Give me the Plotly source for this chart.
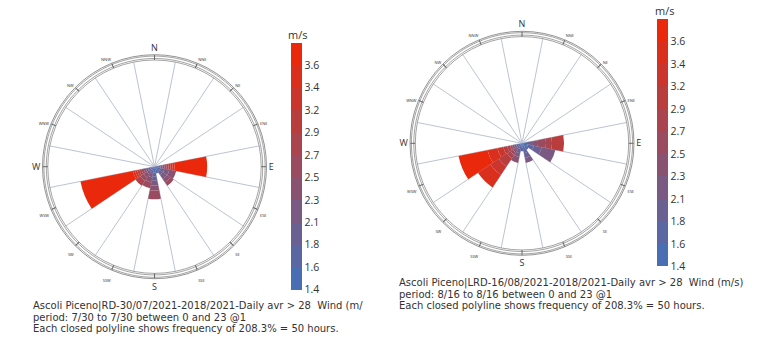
import plotly.graph_objects as go

W, H = 758, 343

# ---- compass sectors -------------------------------------------------------
DIRECTIONS = ["N", "NNE", "NE", "ENE", "E", "ESE", "SE", "SSE",
              "S", "SSW", "SW", "WSW", "W", "WNW", "NW", "NNW"]
DIR_ANGLES = [i * 22.5 for i in range(16)]
SECTOR_EDGES = [11.25 + i * 22.5 for i in range(16)]

# ---- speed classes (m/s), lower bounds of the 11 colour bands --------------
SPEED_LOW = [1.4, 1.62, 1.84, 2.06, 2.28, 2.5, 2.72, 2.94, 3.16, 3.38, 3.6]
SPEED_TOP = 3.82
SPEED_LABELS = ["1.4", "1.6", "1.8", "2.1", "2.3", "2.5", "2.7", "2.9", "3.2", "3.4", "3.6"]

FREQ_MAX = 208.3  # frequency (%) of the closed polyline

# ---- RD-30/07/2021 : frequency (%) per direction, one list per speed class --
#            N  NNE NE ENE   E     ESE   SE    SSE   S     SSW   SW    WSW    W WNW NW NNW
rd_c0  = [0, 0, 0, 0, 3.9,  5.9,  5.9,  7.8, 11.7,  3.9,  3.9,   4.3, 0, 0, 0, 0]
rd_c1  = [0, 0, 0, 0, 3.9,  5.9,  5.9,  5.9,  7.8,  3.9,  3.9,   4.3, 0, 0, 0, 0]
rd_c2  = [0, 0, 0, 0, 3.9,  7.8,  7.8,  0.0,  7.8,  5.9,  3.9,   4.3, 0, 0, 0, 0]
rd_c3  = [0, 0, 0, 0, 3.9,  9.8,  9.8,  0.0,  9.8,  7.8,  5.9,   4.3, 0, 0, 0, 0]
rd_c4  = [0, 0, 0, 0, 3.9, 13.7,  7.8,  0.0,  9.8,  9.8,  7.8,   4.3, 0, 0, 0, 0]
rd_c5  = [0, 0, 0, 0, 3.9,  0.0,  7.8,  0.0, 16.8, 11.7,  7.8,   4.3, 0, 0, 0, 0]
rd_c6  = [0, 0, 0, 0, 3.9,  0.0,  0.0,  0.0,  0.0,  0.0, 11.7,   4.3, 0, 0, 0, 0]
rd_c7  = [0, 0, 0, 0, 3.9,  0.0,  0.0,  0.0,  0.0,  0.0,  0.0,   4.3, 0, 0, 0, 0]
rd_c8  = [0, 0, 0, 0, 3.9,  0.0,  0.0,  0.0,  0.0,  0.0,  0.0,   4.3, 0, 0, 0, 0]
rd_c9  = [0, 0, 0, 0, 3.9,  0.0,  0.0,  0.0,  0.0,  0.0,  0.0,   4.3, 0, 0, 0, 0]
rd_c10 = [0, 0, 0, 0, 63.8, 0.0,  0.0,  0.0,  0.0,  0.0,  0.0, 104.4, 0, 0, 0, 0]

# ---- LRD-16/08/2021 ----------------------------------------------------------
#             N  NNE NE ENE   E     ESE   SE   SSE   S    SSW   SW    WSW   W WNW NW NNW
lrd_c0  = [0, 0, 0, 0,  5.9, 11.7, 7.8, 9.8, 7.8,  5.9,  3.9,  3.9, 0, 0, 0, 0]
lrd_c1  = [0, 0, 0, 0,  5.9, 11.7, 7.8, 9.8, 7.8,  5.9,  3.9,  3.9, 0, 0, 0, 0]
lrd_c2  = [0, 0, 0, 0,  5.9, 15.6, 0.0, 9.8, 0.0,  7.8,  3.9,  3.9, 0, 0, 0, 0]
lrd_c3  = [0, 0, 0, 0,  5.9, 27.3, 0.0, 9.8, 0.0,  7.8,  3.9,  3.9, 0, 0, 0, 0]
lrd_c4  = [0, 0, 0, 0,  7.8,  0.0, 0.0, 0.0, 0.0, 11.7,  5.9,  3.9, 0, 0, 0, 0]
lrd_c5  = [0, 0, 0, 0, 15.6,  0.0, 0.0, 0.0, 0.0,  0.0,  5.9,  3.9, 0, 0, 0, 0]
lrd_c6  = [0, 0, 0, 0, 11.7,  0.0, 0.0, 0.0, 0.0,  0.0,  7.8,  5.9, 0, 0, 0, 0]
lrd_c7  = [0, 0, 0, 0, 23.4,  0.0, 0.0, 0.0, 0.0,  0.0, 19.5,  7.8, 0, 0, 0, 0]
lrd_c8  = [0, 0, 0, 0,  0.0,  0.0, 0.0, 0.0, 0.0,  0.0, 19.5, 11.7, 0, 0, 0, 0]
lrd_c9  = [0, 0, 0, 0,  0.0,  0.0, 0.0, 0.0, 0.0,  0.0, 29.3, 19.5, 0, 0, 0, 0]
lrd_c10 = [0, 0, 0, 0,  0.0,  0.0, 0.0, 0.0, 0.0,  0.0,  0.0, 58.0, 0, 0, 0, 0]

RD_CLASSES = [rd_c0, rd_c1, rd_c2, rd_c3, rd_c4, rd_c5, rd_c6, rd_c7, rd_c8, rd_c9, rd_c10]
LRD_CLASSES = [lrd_c0, lrd_c1, lrd_c2, lrd_c3, lrd_c4, lrd_c5, lrd_c6, lrd_c7, lrd_c8, lrd_c9, lrd_c10]

CAPTION_RD = [
    "Ascoli Piceno|RD-30/07/2021-2018/2021-Daily avr &gt; 28&nbsp; Wind (m/",
    "period: 7/30 to 7/30 between 0 and 23 @1",
    "Each closed polyline shows frequency of 208.3% = 50 hours.",
]
CAPTION_LRD = [
    "Ascoli Piceno|LRD-16/08/2021-2018/2021-Daily avr &gt; 28&nbsp; Wind (m/s)",
    "period: 8/16 to 8/16 between 0 and 23 @1",
    "Each closed polyline shows frequency of 208.3% = 50 hours.",
]
UNIT = "m/s"

# ---- styling ---------------------------------------------------------------
FONT = "Open Sans"
CAPTION_FONT = "DejaVu Sans"
TEXT = "#333333"
RING = "#666666"
GRID = "#bcc4d2"
BLUE = (74, 110, 180)
RED = (234, 40, 12)


def band_colour(i, n):
    t = i / (n - 1)
    r, g, b = (round(BLUE[k] + (RED[k] - BLUE[k]) * t) for k in range(3))
    return f"rgb({r},{g},{b})"


n_bands = len(SPEED_LOW)
colorscale = []
for i in range(n_bands):
    c = band_colour(i, n_bands)
    colorscale.append([i / n_bands, c])
    colorscale.append([(i + 1) / n_bands, c])

class_mid = [lo + (SPEED_TOP - SPEED_LOW[0]) / n_bands / 2 for lo in SPEED_LOW]


def domain(cx, cy, rad):
    return dict(x=[(cx - rad) / W, (cx + rad) / W],
                y=[1 - (cy + rad) / H, 1 - (cy - rad) / H])


R_IN, R_OUT = 106.7, 112.0           # pixel radii of inner / outer compass ring
RING_FREQ = FREQ_MAX * R_OUT / R_IN  # radial range of the ring subplot

fig = go.Figure()

roses = [
    dict(cx=154.5, cy=166.7, classes=RD_CLASSES, bars="polar", ring="polar3", cax="coloraxis",
         cbar_x=291.0, cbar_top=42.7, unit_xy=(297.0, 34.0), cap_xy=(30.7, 317.4), caption=CAPTION_RD),
    dict(cx=522.0, cy=143.3, classes=LRD_CLASSES, bars="polar2", ring="polar4", cax="coloraxis2",
         cbar_x=657.3, cbar_top=19.3, unit_xy=(664.0, 11.0), cap_xy=(397.3, 294.0), caption=CAPTION_LRD),
]

theta_circle = [i * 2 for i in range(181)]
ring_levels = [FREQ_MAX * 110.6 / R_IN, FREQ_MAX * 108.2 / R_IN]

for rose in roses:
    for k, vals in enumerate(rose["classes"]):
        fig.add_trace(go.Barpolar(
            r=vals, theta=DIR_ANGLES, width=22.5,
            marker=dict(color=[class_mid[k]] * 16, coloraxis=rose["cax"], line=dict(width=0)),
            subplot=rose["bars"], showlegend=False, hoverinfo="skip",
        ))
    for lev in ring_levels:
        fig.add_trace(go.Scatterpolar(
            r=[lev] * len(theta_circle), theta=theta_circle, mode="lines",
            line=dict(color=RING, width=0.6), subplot=rose["ring"],
            showlegend=False, hoverinfo="skip",
        ))

tick_text = []
for d in DIRECTIONS:
    if len(d) == 1:
        tick_text.append(d)
    else:
        tick_text.append(f'<span style="font-size:4px">{d}</span>')

layout = dict(
    width=W, height=H, margin=dict(l=0, r=0, t=0, b=0),
    paper_bgcolor="white", plot_bgcolor="white",
    font=dict(family=FONT, color=TEXT, size=10),
    showlegend=False,
)

annotations = []
for rose in roses:
    layout[rose["bars"]] = dict(
        domain=domain(rose["cx"], rose["cy"], R_IN),
        bgcolor="white", barmode="stack",
        radialaxis=dict(visible=False, range=[0, FREQ_MAX]),
        angularaxis=dict(
            rotation=90, direction="clockwise",
            tickmode="array", tickvals=SECTOR_EDGES, showticklabels=False, ticks="",
            showgrid=True, gridcolor=GRID, gridwidth=0.8,
            showline=True, linecolor=RING, linewidth=0.6,
        ),
    )
    layout[rose["ring"]] = dict(
        domain=domain(rose["cx"], rose["cy"], R_OUT),
        bgcolor="rgba(0,0,0,0)",
        radialaxis=dict(visible=False, range=[0, RING_FREQ]),
        angularaxis=dict(
            rotation=90, direction="clockwise",
            tickmode="array", tickvals=DIR_ANGLES, ticktext=tick_text,
            ticks="inside", ticklen=5, tickwidth=0.6, tickcolor=RING,
            tickfont=dict(size=9, color=TEXT),
            showgrid=False, showline=True, linecolor=RING, linewidth=0.7,
        ),
    )
    layout[rose["cax"]] = dict(
        colorscale=colorscale, cmin=SPEED_LOW[0], cmax=SPEED_TOP,
        colorbar=dict(
            x=rose["cbar_x"] / W, xanchor="left", xpad=0,
            y=1 - rose["cbar_top"] / H, yanchor="top", ypad=0,
            len=247.4, lenmode="pixels", thickness=11, thicknessmode="pixels",
            outlinewidth=0, ticks="",
            tickmode="array", tickvals=SPEED_LOW, ticktext=SPEED_LABELS,
            tickfont=dict(size=10.5, color=TEXT),
        ),
    )
    ux, uy = rose["unit_xy"]
    annotations.append(dict(
        text=UNIT, x=ux / W, y=1 - uy / H, xref="paper", yref="paper",
        xanchor="center", yanchor="middle", showarrow=False,
        font=dict(size=11, color=TEXT),
    ))
    # caption: glyphs at 10px on a 9px line pitch
    cx0, cy0 = rose["cap_xy"]
    caption = "<br>".join(f'<span style="font-size:10px">{ln}</span>' for ln in rose["caption"])
    annotations.append(dict(
        text=caption, x=cx0 / W, y=1 - cy0 / H,
        xref="paper", yref="paper", xanchor="left", yanchor="middle", align="left",
        showarrow=False, font=dict(family=CAPTION_FONT, size=9, color=TEXT),
    ))
layout["annotations"] = annotations

fig.update_layout(**layout)
fig.write_html("out.html")
